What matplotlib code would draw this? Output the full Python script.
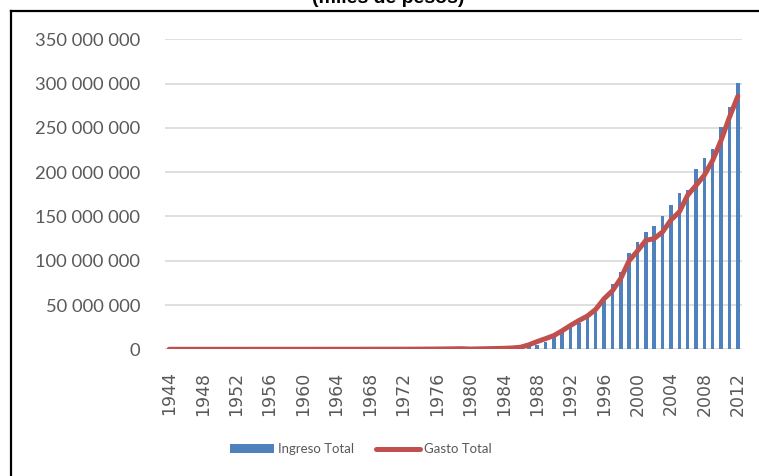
import numpy as np
import matplotlib.pyplot as plt
from matplotlib.ticker import FuncFormatter
from matplotlib.patches import Patch
from matplotlib.lines import Line2D

# === DATA (millions of pesos) ===
years = list(range(1944, 2013))

ingreso_mill = [
    0.01, 0.01, 0.01, 0.01, 0.01, 0.01, 0.02, 0.02, 0.02, 0.02, 0.02, 0.03, 0.03, 0.03, 0.03, 0.04,
    0.04, 0.05, 0.05, 0.06, 0.07, 0.07, 0.08, 0.09, 0.10, 0.11,
    0.12, 0.13, 0.15, 0.18, 0.22, 0.28, 0.35, 0.45, 0.55, 0.70,
    0.30, 0.40, 0.60, 0.80, 1.0, 1.4, 2.0,
    3.5, 5.0, 8.7, 13.6, 20.0, 25.8, 29.5, 36.0, 44.7, 54.0,
    74.0, 87.5, 108.5, 121.5, 132.0, 139.5, 150.8, 162.8, 177.0, 179.7,
    203.0, 216.5, 226.7, 251.0, 273.7, 300.8,
]

gasto_mill = [
    0.01, 0.01, 0.01, 0.01, 0.01, 0.01, 0.02, 0.02, 0.02, 0.02, 0.02, 0.03, 0.03, 0.03, 0.03, 0.04,
    0.04, 0.05, 0.05, 0.06, 0.07, 0.07, 0.08, 0.09, 0.10, 0.11,
    0.12, 0.13, 0.15, 0.18, 0.22, 0.28, 0.35, 0.45, 0.55, 0.70,
    0.30, 0.50, 0.70, 0.90, 1.1, 1.5, 2.3,
    5.0, 8.7, 12.0, 15.5, 21.0, 27.0, 32.5, 37.5, 45.0, 57.0,
    66.0, 80.0, 100.0, 111.0, 123.0, 125.0, 132.5, 146.0, 155.0, 174.0,
    185.0, 196.6, 213.5, 236.0, 262.0, 285.7,
]

ingreso = np.array(ingreso_mill) * 1e6
gasto = np.array(gasto_mill) * 1e6

blue = "#4F81BD"
red = "#C0504D"
grey_txt = "#595959"

plt.rcParams["font.family"] = ["Lato", "DejaVu Sans"]

fig = plt.figure(figsize=(7.59, 4.76), dpi=100)
ax = fig.add_axes([165 / 759, (476 - 349.3) / 476, 577 / 759, 310 / 476])

x = np.arange(len(years))
ax.bar(x, ingreso, width=0.42, color=blue, zorder=2)
ax.plot(x, gasto, color=red, lw=3.6, solid_joinstyle="round",
        solid_capstyle="round", zorder=3)

ax.set_xlim(-0.5, len(years) - 0.5)
ax.set_ylim(0, 350e6)
ax.set_yticks(np.arange(0, 350e6 + 1, 50e6))
ax.yaxis.set_major_formatter(FuncFormatter(lambda v, p: f"{int(v):,}".replace(",", " ")))
ax.grid(axis="y", color="#D9D9D9", lw=1.2, zorder=0)
ax.set_axisbelow(True)

ax.set_xticks(x[::4])
ax.set_xticklabels([str(y) for y in years[::4]], rotation=90,
                   family="DejaVu Sans", fontsize=12.5)
ax.tick_params(axis="x", length=0, pad=16, labelcolor=grey_txt)
ax.tick_params(axis="y", length=0, pad=18, labelsize=13.2, labelcolor=grey_txt)

for s in ax.spines.values():
    s.set_visible(False)

# legend
handles = [Patch(facecolor=blue, edgecolor="none"),
           Line2D([0], [0], color=red, lw=3.6, solid_capstyle="round")]
fig.legend(handles, ["Ingreso Total", "Gasto Total"], loc="center",
           bbox_to_anchor=(361 / 759, 1 - 449 / 476), ncol=2, frameon=False,
           fontsize=9.5, handlelength=3.3, handleheight=0.6, columnspacing=1.7,
           handletextpad=0.3, labelcolor=grey_txt)

# title, cut off at the top edge as in the source
fig.text(388 / 759, 1 - 3 / 476, "(miles de pesos)", ha="center", va="baseline",
         fontsize=14, fontweight="bold", family="Liberation Sans")

# chart frame (partly outside the picture)
fig.add_artist(Line2D([11 / 759, 11 / 759], [-0.1, 1 - 11 / 476],
                      color="black", lw=1.6, transform=fig.transFigure))
fig.add_artist(Line2D([11 / 759, 1.1], [1 - 11 / 476, 1 - 11 / 476],
                      color="black", lw=1.6, transform=fig.transFigure))

fig.savefig("out.png", dpi=100)
